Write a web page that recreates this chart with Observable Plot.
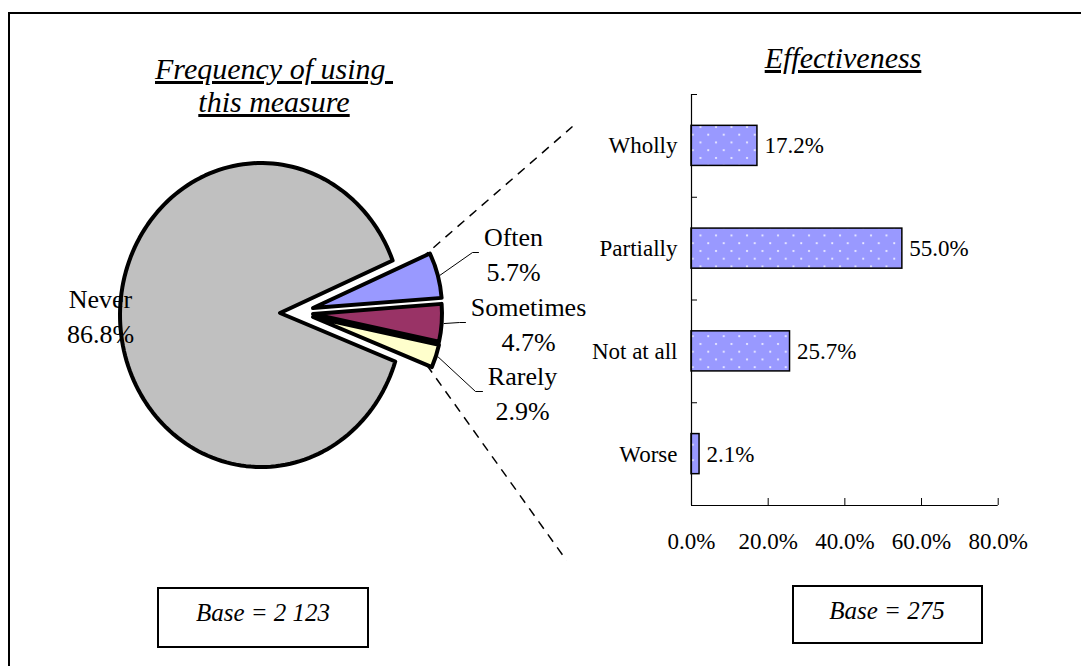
<!DOCTYPE html>
<html><head><meta charset="utf-8">
<script src="https://cdn.jsdelivr.net/npm/d3@7"></script>
<script src="https://cdn.jsdelivr.net/npm/@observablehq/plot@0.6"></script>
<style>
body{margin:0;background:#fff;}
#wrap{position:relative;width:1081px;height:666px;overflow:hidden;font-family:"Liberation Serif","Times New Roman",serif;background:#fff;}
#wrap svg{position:absolute;left:0;top:0;}
.frame{position:absolute;left:8px;top:12px;width:1200px;height:800px;border-left:2px solid #000;border-top:2px solid #000;}
.title{position:absolute;font-style:italic;font-size:30px;text-decoration:underline;white-space:pre;text-align:center;line-height:33px;width:320px;}
.base{position:absolute;border:2px solid #000;box-sizing:border-box;background:#fff;}
.basetext{position:absolute;font-style:italic;font-size:25px;white-space:pre;text-align:center;width:240px;line-height:30px;}
</style></head><body><div id="wrap"></div>
<script>
// ---- data ----
const pieLabels = ["Often", "Sometimes", "Rarely", "Never"];
const pieValues = [5.7, 4.7, 2.9, 86.8];
const pieColors = ["#9999ff", "#993366", "#ffffcc", "#c0c0c0"];
const barCategories = ["Wholly", "Partially", "Not at all", "Worse"];
const barValues = [17.2, 55.0, 25.7, 2.1];
const xTickValues = [0, 20, 40, 60, 80];
const titleTexts = ["Frequency of using \nthis measure", "Effectiveness"];
const baseTexts = ["Base = 2 123", "Base = 275"];

// ---- layout ----
const W = 1081, H = 666;
const FONT = "Liberation Serif";
const L = {
  startDeg: 65,
  smallCenter: [312, 313], smallR: 129,
  explode: [[1, -5], [1, 1], [1, 4]],
  neverVertex: [280, 313],
  neverEllipse: {cx: 261, cy: 315, rx: 141, ry: 152},
  labelAt: [[513, 252], [528, 322], [522, 391], [100, 314]],
  leaderElbow: [[472, 478], [459, 465], [475, 482]],
  dashEnds: [[572, 126], [566, 560]],
  bar: {left: 691, right: 997.7, top: 94, bottom: 505, half: 0.195}
};

const wrap = document.getElementById("wrap");
const frame = document.createElement("div"); frame.className = "frame"; wrap.appendChild(frame);

// ---- pie ----
const pieData = pieLabels.map((label, i) => ({label, value: pieValues[i], color: pieColors[i], i}));
const a0 = L.startDeg * Math.PI / 180;
const arcs = d3.pie().sort(null).value(d => d.value).startAngle(a0).endAngle(a0 + 2 * Math.PI)(pieData);
const sliceCenter = i => [L.smallCenter[0] + L.explode[i][0], L.smallCenter[1] + L.explode[i][1]];
const polar = (c, r, a) => [c[0] + r * Math.sin(a), c[1] - r * Math.cos(a)];

// ray from p at d3-angle ang, hitting the Never outline
function rayHit(p, ang) {
  const E = L.neverEllipse, dx = Math.sin(ang), dy = -Math.cos(ang);
  const ox = (p[0] - E.cx) / E.rx, oy = (p[1] - E.cy) / E.ry, vx = dx / E.rx, vy = dy / E.ry;
  const a = vx * vx + vy * vy, b = 2 * (ox * vx + oy * vy), c = ox * ox + oy * oy - 1;
  const t = (-b + Math.sqrt(b * b - 4 * a * c)) / (2 * a);
  return [p[0] + t * dx, p[1] + t * dy];
}
const ellAngle = q => { const E = L.neverEllipse; return Math.atan2((q[0] - E.cx) / E.rx, -(q[1] - E.cy) / E.ry); };
function neverPath(a) {
  const E = L.neverEllipse, v = L.neverVertex;
  const p0 = rayHit(v, a.startAngle), p1 = rayHit(v, a.endAngle);
  let t0 = ellAngle(p0), t1 = ellAngle(p1);
  while (t1 < t0) t1 += 2 * Math.PI;
  const pts = [v, p0];
  const n = 160;
  for (let k = 1; k < n; k++) {
    const t = t0 + (t1 - t0) * k / n;
    pts.push([E.cx + E.rx * Math.sin(t), E.cy - E.ry * Math.cos(t)]);
  }
  pts.push(p1);
  return "M" + pts.map(p => p.join(",")).join("L") + "Z";
}

function pieMark() {
  const g = d3.create("svg:g");
  const nev = arcs[3];
  g.append("path").attr("d", neverPath(nev)).attr("fill", nev.data.color)
    .attr("stroke", "#000").attr("stroke-width", 4).attr("stroke-linejoin", "round");
  for (const i of [0, 1, 2]) {
    const a = arcs[i];
    const c = sliceCenter(i);
    g.append("path")
      .attr("transform", `translate(${c[0]},${c[1]})`)
      .attr("d", d3.arc().innerRadius(0).outerRadius(L.smallR)(a))
      .attr("fill", a.data.color)
      .attr("stroke", "#000")
      .attr("stroke-width", 4)
      .attr("stroke-linejoin", "round");
  }
  return g.node();
}

const labelData = arcs.map((a, i) => ({
  x: L.labelAt[i][0], y: L.labelAt[i][1],
  text: `${a.data.label}\n${a.data.value.toFixed(1)}%`
}));
const leaderData = [];
arcs.slice(0, 3).forEach((a, i) => {
  const mid = (a.startAngle + a.endAngle) / 2;
  const s = polar(sliceCenter(i), L.smallR + 2, mid);
  const y = L.labelAt[i][1];
  leaderData.push({k: i, x: s[0], y: s[1]});
  leaderData.push({k: i, x: L.leaderElbow[i][0], y});
  leaderData.push({k: i, x: L.leaderElbow[i][1], y});
});
const topCorner = polar(sliceCenter(0), L.smallR - 10, arcs[0].startAngle);
const botCorner = polar(sliceCenter(2), L.smallR - 6, arcs[2].endAngle);
const dashData = [
  {x1: topCorner[0], y1: topCorner[1], x2: L.dashEnds[0][0], y2: L.dashEnds[0][1]},
  {x1: botCorner[0], y1: botCorner[1], x2: L.dashEnds[1][0], y2: L.dashEnds[1][1]}
];

const pieSvg = Plot.plot({
  width: W, height: H, margin: 0,
  x: {type: "identity", axis: null}, y: {type: "identity", axis: null},
  style: {background: "transparent", fontFamily: FONT, overflow: "visible"},
  marks: [
    Plot.link(dashData, {x1: "x1", y1: "y1", x2: "x2", y2: "y2", stroke: "#000", strokeWidth: 1.5, strokeDasharray: "9,7"}),
    pieMark,
    Plot.line(leaderData, {x: "x", y: "y", z: "k", stroke: "#000", strokeWidth: 1}),
    Plot.text(labelData, {x: "x", y: "y", text: "text", fontSize: 26, lineHeight: 1.35, fill: "#000", fontFamily: FONT})
  ]
});
wrap.appendChild(pieSvg);

// ---- bars ----
const barData = barCategories.map((c, i) => ({c, i, value: barValues[i]}));
const boundaries = d3.range(barCategories.length + 1).map(k => k - 0.5);
const B = L.bar;
const fmt = d => d.toFixed(1) + "%";
const barSvg = Plot.plot({
  width: W, height: H,
  marginLeft: B.left, marginRight: W - B.right, marginTop: B.top, marginBottom: H - B.bottom,
  x: {domain: [0, 80], label: null},
  y: {domain: [-0.5, barCategories.length - 0.5], reverse: true, label: null},
  style: {background: "transparent", fontFamily: FONT, overflow: "visible", color: "#000"},
  marks: [
    Plot.rect(barData, {x1: 0, x2: "value", y1: d => d.i - B.half, y2: d => d.i + B.half, fill: "url(#dots)", stroke: "#000", strokeWidth: 1.5}),
    Plot.text(barData, {x: "value", y: "i", text: d => fmt(d.value), textAnchor: "start", dx: 7, fontSize: 23, fill: "#000"}),
    Plot.ruleX([0], {y1: -0.5, y2: barCategories.length - 0.5, stroke: "#000", strokeWidth: 1.2}),
    Plot.ruleY([barCategories.length - 0.5], {x1: 0, x2: 80, stroke: "#000", strokeWidth: 1.2}),
    Plot.axisY({ticks: boundaries, tickSize: -6, tickFormat: () => "", stroke: "#000", label: null}),
    Plot.axisY({ticks: barData.map(d => d.i), tickSize: 0, tickPadding: 14, tickFormat: i => barCategories[i], fontSize: 23, fill: "#000", label: null}),
    Plot.axisX({ticks: xTickValues, tickSize: -7, tickFormat: () => "", stroke: "#000", label: null}),
    Plot.axisX({ticks: xTickValues, tickSize: 0, tickPadding: 27, tickFormat: fmt, fontSize: 23, fill: "#000", label: null})
  ]
});
d3.select(barSvg).insert("defs", ":first-child").html(
  `<pattern id="dots" patternUnits="userSpaceOnUse" width="15.5" height="15.5">
     <rect width="15.5" height="15.5" fill="#9999ff"/>
     <circle cx="3" cy="3" r="1.1" fill="#f0f0ff"/>
     <circle cx="10.75" cy="10.75" r="1.1" fill="#f0f0ff"/>
   </pattern>`);
wrap.appendChild(barSvg);

// ---- titles & base boxes ----
const titlePos = [[114, 52], [683, 41]];
titleTexts.forEach((t, i) => {
  const d = document.createElement("div"); d.className = "title";
  d.style.left = titlePos[i][0] + "px"; d.style.top = titlePos[i][1] + "px";
  d.textContent = t; wrap.appendChild(d);
});
const boxPos = [[157, 587, 212, 61], [792, 585, 191, 59]];
const baseTextCenter = [[263, 613], [887, 611]];
baseTexts.forEach((t, i) => {
  const b = document.createElement("div"); b.className = "base";
  const [x, y, w, h] = boxPos[i];
  Object.assign(b.style, {left: x + "px", top: y + "px", width: w + "px", height: h + "px"});
  wrap.appendChild(b);
  const tx = document.createElement("div"); tx.className = "basetext";
  tx.style.left = (baseTextCenter[i][0] - 120) + "px"; tx.style.top = (baseTextCenter[i][1] - 15) + "px";
  tx.textContent = t; wrap.appendChild(tx);
});
</script></body></html>
